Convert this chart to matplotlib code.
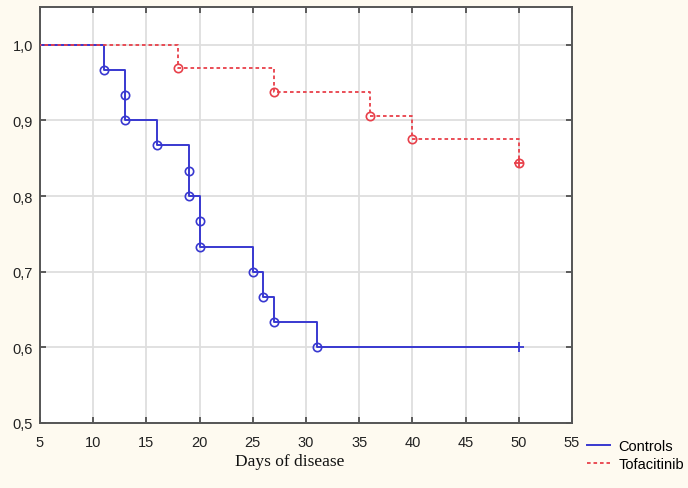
'''
Kaplan-Meier style plot: Controls vs Tofacitinib
'''
import matplotlib
matplotlib.use("Agg")
import matplotlib.pyplot as plt
from matplotlib.ticker import FuncFormatter

# data
ctrl_days = [0, 11, 13, 13, 16, 19, 19, 20, 20, 25, 26, 27, 31, 50]
ctrl_surv = [1.0, 0.967, 0.933, 0.900, 0.867, 0.833, 0.800, 0.767, 0.733, 0.700, 0.667, 0.633, 0.600, 0.600]
ctrl_censored = [50]

tofa_days = [0, 18, 27, 36, 40, 50]
tofa_surv = [1.0, 0.969, 0.938, 0.906, 0.875, 0.844]
tofa_censored = [50]

x_ticks = [5, 10, 15, 20, 25, 30, 35, 40, 45, 50, 55]
y_ticks = [0.5, 0.6, 0.7, 0.8, 0.9, 1.0]

blue = "#3838d0"
red = "#e8404a"
bg = "#fefaf0"

plt.rcParams["font.family"] = ["Liberation Sans", "DejaVu Sans"]

fig = plt.figure(figsize=(6.88, 4.89), dpi=100, facecolor=bg)
ax = fig.add_axes([40 / 688, 1 - 424 / 489, 532 / 688, 416 / 489])
ax.set_facecolor("white")

# controls
ax.step(ctrl_days, ctrl_surv, where="post", color=blue, lw=1.4, label="Controls", zorder=3)
ax.plot(ctrl_days[1:-1], ctrl_surv[1:-1], "o", mfc="none", mec=blue, ms=6, mew=1.2, zorder=4)
ax.plot(ctrl_censored, [ctrl_surv[-1]] * len(ctrl_censored), "+", color=blue, ms=7, mew=1.3, zorder=4)

# tofacitinib
ax.step(tofa_days, tofa_surv, where="post", color=red, lw=1.3, ls=(0, (2, 1.6)), label="Tofacitinib", zorder=3)
ax.plot(tofa_days[1:], tofa_surv[1:], "o", mfc="none", mec=red, ms=6, mew=1.2, zorder=4)
ax.plot(tofa_censored, [tofa_surv[-1]] * len(tofa_censored), "+", color=red, ms=7, mew=1.3, zorder=4)

ax.set_xlim(5, 55)
ax.set_ylim(0.5, 1.05)
ax.set_xticks(x_ticks)
ax.set_yticks(y_ticks)
ax.yaxis.set_major_formatter(FuncFormatter(lambda v, p: f"{v:.1f}".replace(".", ",")))
ax.grid(True, color="#dedede", lw=1.3, zorder=0)
ax.set_axisbelow(True)
ax.tick_params(direction="in", length=4, width=1.2, color="#444444", top=True, right=True,
               labelsize=10.5, colors="#222222")
ax.tick_params(axis="x", pad=9)
ax.tick_params(axis="y", pad=5)
for s in ax.spines.values():
    s.set_color("#555555")
    s.set_linewidth(1.4)

ax.set_xlabel("Days of disease", family="Liberation Serif", fontsize=12.5, color="#111111", va="center")
ax.xaxis.set_label_coords(0.47, -0.092)

fig.legend(loc="upper left", bbox_to_anchor=(587 / 688, 1 - 440 / 489), frameon=False,
           fontsize=10.5, handlelength=1.6, handletextpad=0.55, labelspacing=0.25,
           borderpad=0, borderaxespad=0)

fig.savefig("out.png", dpi=100, facecolor=bg)
